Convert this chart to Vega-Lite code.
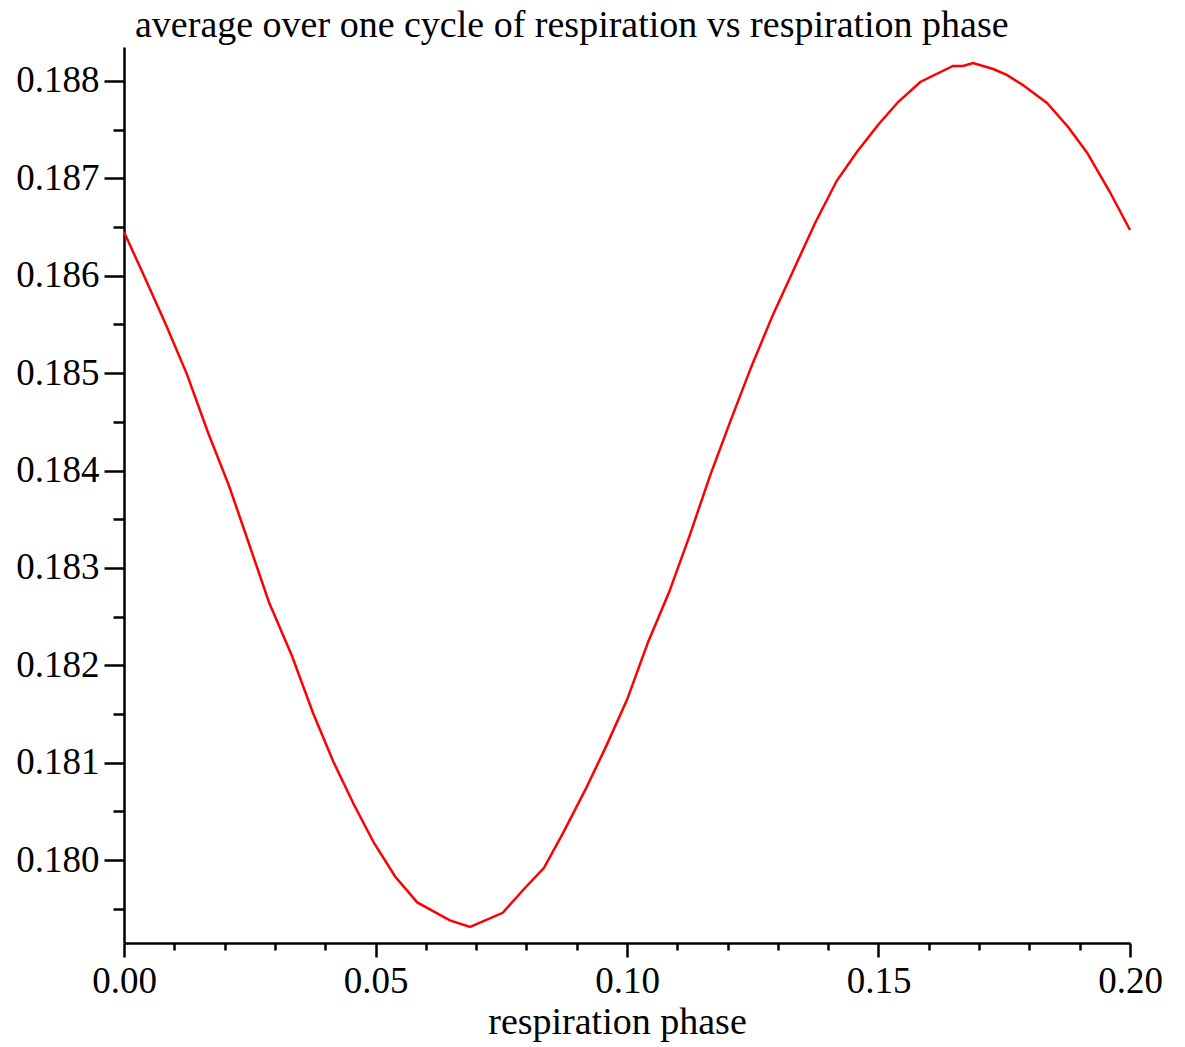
{
  "$schema": "https://vega.github.io/schema/vega-lite/v6.json",
  "autosize": {"type": "none"},
  "padding": {"left": 124, "top": 47, "right": 55, "bottom": 104},
  "width": 1006,
  "height": 896,
  "background": "white",
  "config": {"view": {"stroke": null}},
  "title": {
    "text": "average over one cycle of respiration vs respiration phase",
    "anchor": "start",
    "frame": "group",
    "dx": 11,
    "offset": 2,
    "font": "Liberation Serif",
    "fontSize": 38,
    "fontWeight": "normal",
    "color": "black"
  },
  "data": {
    "values": [
      {"phase": 0.0000, "avg": 0.186450},
      {"phase": 0.0042, "avg": 0.185975},
      {"phase": 0.0084, "avg": 0.185490},
      {"phase": 0.0125, "avg": 0.184990},
      {"phase": 0.0167, "avg": 0.184390},
      {"phase": 0.0209, "avg": 0.183840},
      {"phase": 0.0249, "avg": 0.183240},
      {"phase": 0.0288, "avg": 0.182650},
      {"phase": 0.0334, "avg": 0.182095},
      {"phase": 0.0376, "avg": 0.181508},
      {"phase": 0.0416, "avg": 0.181012},
      {"phase": 0.0457, "avg": 0.180570},
      {"phase": 0.0497, "avg": 0.180175},
      {"phase": 0.0539, "avg": 0.179831},
      {"phase": 0.0583, "avg": 0.179565},
      {"phase": 0.0648, "avg": 0.179380},
      {"phase": 0.0688, "avg": 0.179314},
      {"phase": 0.0753, "avg": 0.179458},
      {"phase": 0.0793, "avg": 0.179690},
      {"phase": 0.0835, "avg": 0.179920},
      {"phase": 0.0873, "avg": 0.180279},
      {"phase": 0.0917, "avg": 0.180720},
      {"phase": 0.0958, "avg": 0.181162},
      {"phase": 0.1000, "avg": 0.181645},
      {"phase": 0.1042, "avg": 0.182240},
      {"phase": 0.1084, "avg": 0.182754},
      {"phase": 0.1125, "avg": 0.183339},
      {"phase": 0.1165, "avg": 0.183945},
      {"phase": 0.1205, "avg": 0.184499},
      {"phase": 0.1247, "avg": 0.185064},
      {"phase": 0.1290, "avg": 0.185598},
      {"phase": 0.1332, "avg": 0.186070},
      {"phase": 0.1374, "avg": 0.186542},
      {"phase": 0.1417, "avg": 0.186975},
      {"phase": 0.1457, "avg": 0.187271},
      {"phase": 0.1499, "avg": 0.187548},
      {"phase": 0.1539, "avg": 0.187784},
      {"phase": 0.1583, "avg": 0.187990},
      {"phase": 0.1648, "avg": 0.188154},
      {"phase": 0.1668, "avg": 0.188154},
      {"phase": 0.1688, "avg": 0.188185},
      {"phase": 0.1728, "avg": 0.188123},
      {"phase": 0.1755, "avg": 0.188062},
      {"phase": 0.1787, "avg": 0.187959},
      {"phase": 0.1835, "avg": 0.187774},
      {"phase": 0.1877, "avg": 0.187528},
      {"phase": 0.1915, "avg": 0.187261},
      {"phase": 0.1960, "avg": 0.186860},
      {"phase": 0.2000, "avg": 0.186470}
    ]
  },
  "mark": {"type": "line", "color": "#ff0000", "strokeWidth": 2.5, "interpolate": "linear"},
  "encoding": {
    "x": {
      "field": "phase",
      "type": "quantitative",
      "scale": {"domain": [0, 0.2], "nice": false, "zero": false},
      "axis": {
        "title": "respiration phase",
        "titleFont": "Liberation Serif",
        "titleFontSize": 38,
        "titleFontWeight": "normal",
        "titleColor": "black",
        "titleX": 493,
        "titleY": 90,
        "titleBaseline": "alphabetic",
        "titleAnchor": "middle",
        "values": [0, 0.01, 0.02, 0.03, 0.04, 0.05, 0.06, 0.07, 0.08, 0.09, 0.10, 0.11, 0.12, 0.13, 0.14, 0.15, 0.16, 0.17, 0.18, 0.19, 0.20],
        "labelExpr": "abs(datum.value*20 - round(datum.value*20)) < 1e-6 ? format(datum.value, '.2f') : ''",
        "labelFont": "Liberation Serif",
        "labelFontSize": 37,
        "labelColor": "black",
        "labelPadding": 6,
        "labelFlush": false,
        "labelOverlap": false,
        "grid": false,
        "domainColor": "black",
        "domainWidth": 2.5,
        "tickColor": "black",
        "tickWidth": 2.5,
        "tickSize": {"condition": {"test": "abs(datum.value*20 - round(datum.value*20)) < 1e-6", "value": 14}, "value": 7}
      }
    },
    "y": {
      "field": "avg",
      "type": "quantitative",
      "scale": {"domain": [0.179148, 0.188349], "nice": false, "zero": false},
      "axis": {
        "title": null,
        "values": [0.1795, 0.180, 0.1805, 0.181, 0.1815, 0.182, 0.1825, 0.183, 0.1835, 0.184, 0.1845, 0.185, 0.1855, 0.186, 0.1865, 0.187, 0.1875, 0.188],
        "labelExpr": "abs(datum.value*1000 - round(datum.value*1000)) < 1e-6 ? format(datum.value, '.3f') : ''",
        "labelFont": "Liberation Serif",
        "labelFontSize": 37,
        "labelColor": "black",
        "labelPadding": 5,
        "labelFlush": false,
        "labelOverlap": false,
        "grid": false,
        "domainColor": "black",
        "domainWidth": 2.5,
        "tickColor": "black",
        "tickWidth": 2.5,
        "tickSize": {"condition": {"test": "abs(datum.value*1000 - round(datum.value*1000)) < 1e-6", "value": 20}, "value": 11}
      }
    }
  }
}
